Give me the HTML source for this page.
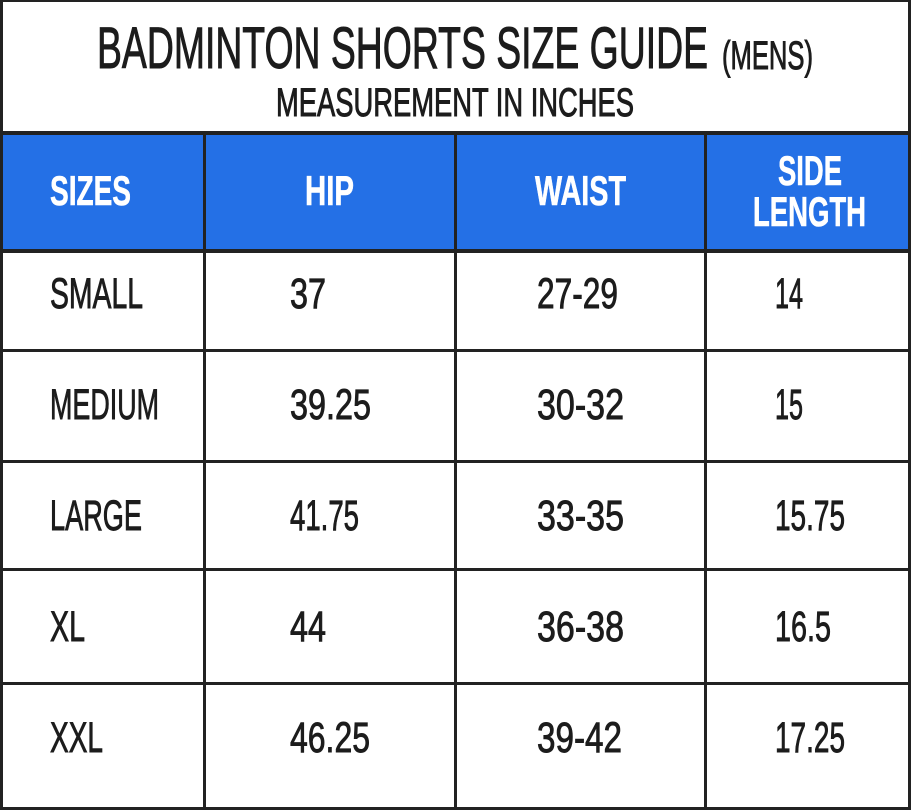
<!DOCTYPE html>
<html><head><meta charset="utf-8"><style>
html,body{margin:0;padding:0;background:#fff;}
svg{display:block;}
text{font-family:"Liberation Sans Narrow","Liberation Sans",sans-serif;}
</style></head><body>
<svg width="911" height="810" viewBox="0 0 911 810" xmlns="http://www.w3.org/2000/svg">
<rect x="0" y="0" width="911" height="810" fill="#fff"/>
<rect x="0" y="133" width="911" height="118" fill="#2470e6"/>
<g fill="#222">
<rect x="0" y="0" width="911" height="2"/>
<rect x="0" y="0" width="3" height="810"/>
<rect x="908" y="0" width="3" height="810"/>
<rect x="0" y="131" width="911" height="4"/>
<rect x="0" y="249" width="911" height="4"/>
<rect x="0" y="349" width="911" height="3"/>
<rect x="0" y="460" width="911" height="3"/>
<rect x="0" y="568" width="911" height="3"/>
<rect x="0" y="682" width="911" height="3"/>
<rect x="0" y="807" width="911" height="3"/>
<rect x="203" y="131" width="3" height="679"/>
<rect x="454" y="131" width="3" height="679"/>
<rect x="704" y="131" width="3" height="679"/>
</g>
<g fill="#1c1c1c" stroke="#1c1c1c" stroke-width="1">
<text x="97" y="68" font-size="58" textLength="611" lengthAdjust="spacingAndGlyphs">BADMINTON SHORTS SIZE GUIDE</text>
<text x="722" y="69" font-size="40" textLength="91" lengthAdjust="spacingAndGlyphs">(MENS)</text>
<text x="276" y="116" font-size="40" textLength="358" lengthAdjust="spacingAndGlyphs">MEASUREMENT IN INCHES</text>
</g>
<g fill="#fff" font-weight="bold" font-size="42" stroke="#fff" stroke-width="0.6">
<text x="50" y="205" textLength="81" lengthAdjust="spacingAndGlyphs">SIZES</text>
<text x="305" y="205" textLength="49" lengthAdjust="spacingAndGlyphs">HIP</text>
<text x="535" y="205" textLength="91" lengthAdjust="spacingAndGlyphs">WAIST</text>
<text x="778" y="185" textLength="64" lengthAdjust="spacingAndGlyphs">SIDE</text>
<text x="753" y="226" textLength="113" lengthAdjust="spacingAndGlyphs">LENGTH</text>
</g>
<g fill="#1c1c1c" font-size="43" stroke="#1c1c1c" stroke-width="0.9">
<text x="50" y="308" textLength="93" lengthAdjust="spacingAndGlyphs">SMALL</text>
<text x="290" y="308" textLength="36" lengthAdjust="spacingAndGlyphs">37</text>
<text x="537" y="308" textLength="81" lengthAdjust="spacingAndGlyphs">27-29</text>
<text x="775" y="308" textLength="28" lengthAdjust="spacingAndGlyphs">14</text>

<text x="50" y="419" textLength="109" lengthAdjust="spacingAndGlyphs">MEDIUM</text>
<text x="290" y="419" textLength="81" lengthAdjust="spacingAndGlyphs">39.25</text>
<text x="537" y="419" textLength="87" lengthAdjust="spacingAndGlyphs">30-32</text>
<text x="775" y="419" textLength="28" lengthAdjust="spacingAndGlyphs">15</text>

<text x="50" y="530" textLength="92" lengthAdjust="spacingAndGlyphs">LARGE</text>
<text x="290" y="530" textLength="69" lengthAdjust="spacingAndGlyphs">41.75</text>
<text x="537" y="530" textLength="87" lengthAdjust="spacingAndGlyphs">33-35</text>
<text x="775" y="530" textLength="70" lengthAdjust="spacingAndGlyphs">15.75</text>

<text x="50" y="641" textLength="35" lengthAdjust="spacingAndGlyphs">XL</text>
<text x="290" y="641" textLength="36" lengthAdjust="spacingAndGlyphs">44</text>
<text x="537" y="641" textLength="87" lengthAdjust="spacingAndGlyphs">36-38</text>
<text x="775" y="641" textLength="56" lengthAdjust="spacingAndGlyphs">16.5</text>

<text x="50" y="752" textLength="53" lengthAdjust="spacingAndGlyphs">XXL</text>
<text x="290" y="752" textLength="80" lengthAdjust="spacingAndGlyphs">46.25</text>
<text x="537" y="752" textLength="85" lengthAdjust="spacingAndGlyphs">39-42</text>
<text x="775" y="752" textLength="70" lengthAdjust="spacingAndGlyphs">17.25</text>
</g>
</svg>
</body></html>
